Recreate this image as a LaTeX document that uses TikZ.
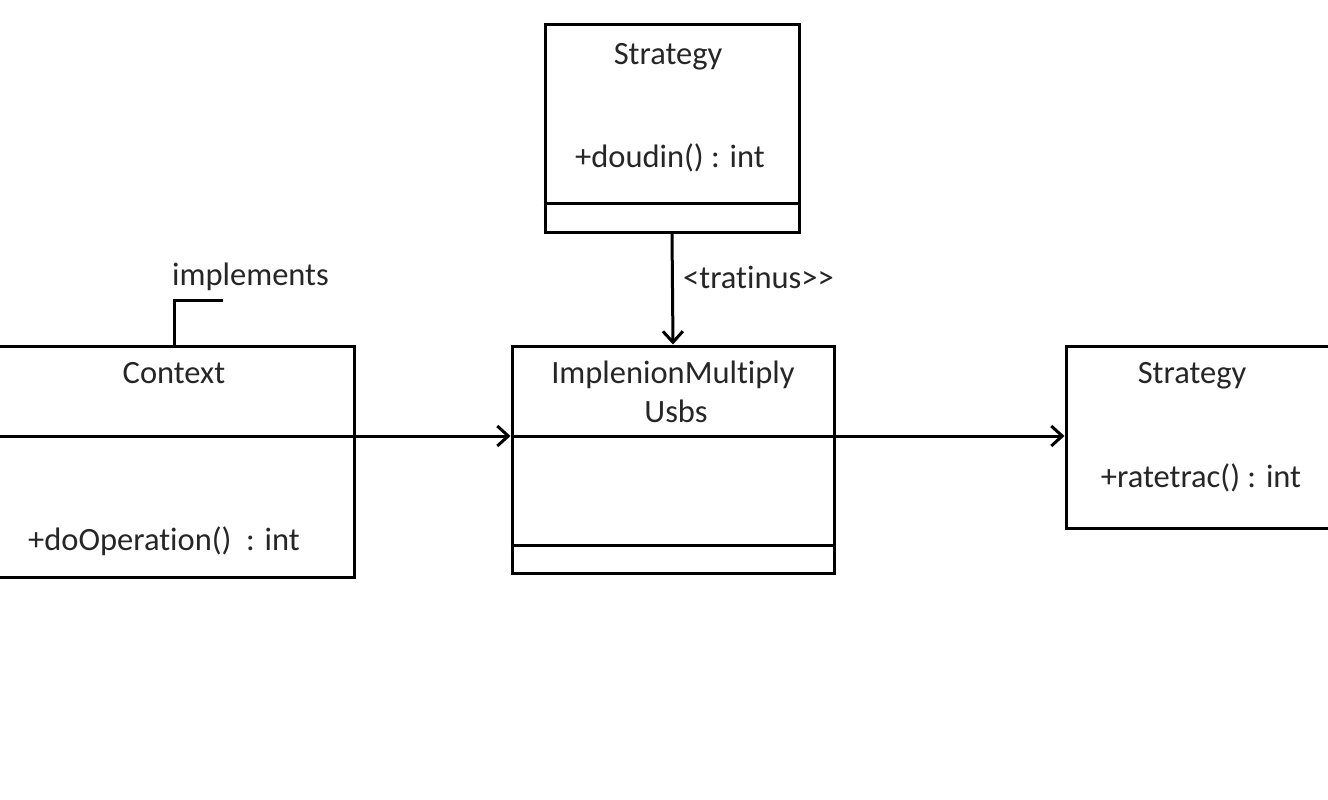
\documentclass[tikz,border=0pt]{standalone}
\usepackage{fontspec}
\setmainfont{Carlito}[Ligatures={NoCommon},Mapping={}]
\usetikzlibrary{arrows.meta}
\begin{document}
\begin{tikzpicture}[x=1pt,y=-1pt,
  umlbox/.style={draw=black,line width=3pt,fill=white,rectangle,inner sep=0pt},
  lbl/.style={inner sep=0pt,anchor=base,font=\fontsize{32.5}{38}\selectfont,text=black!85},
  conn/.style={line width=3pt,-{Straight Barb[length=11pt,width=20pt,line width=3pt]}},
  plain/.style={line width=3pt}]
\clip (0,0) rectangle (1328,800);
\fill[white] (0,0) rectangle (1328,800);
% boxes
\node[umlbox,minimum width=254pt,minimum height=207pt] (top) at (672,128.5) {};
\node[umlbox,minimum width=374pt,minimum height=231pt] (ctx) at (167,461.5) {};
\node[umlbox,minimum width=322pt,minimum height=227pt] (mid) at (673,459.5) {};
\node[umlbox,minimum width=282pt,minimum height=182pt] (rgt) at (1207,437) {};
% dividers
\draw[plain] (top.west |- 0,203) -- (top.east |- 0,203);
\draw[plain] (mid.west |- 0,545) -- (mid.east |- 0,545);
\draw[plain] (mid.west |- 0,436) -- (mid.east |- 0,436);
% texts
\node[lbl] (t1) at (668,64) {Strategy};
\node[lbl] (t2) at (670,167) {+doudin() : int};
\node[lbl,anchor=base west] (t3) at (683,288) {<tratinus{>}{>}};
\node[lbl,anchor=base west] (t4) at (172,285) {implements};
\node[lbl] (t5) at (174,383) {Context};
\node[lbl,anchor=base west] (t6) at (28,550) {+doOperation()\ \ : int};
\node[lbl] (t7) at (673,383) {ImplenionMultiply};
\node[lbl] (t8) at (676,422) {Usbs};
\node[lbl] (t9) at (1192,383) {Strategy};
\node[lbl] (t10) at (1201,487) {+ratetrac() : int};
% connectors
\coordinate (lstart) at (-20,436);
\coordinate (imp) at (223,300);
\draw[conn] (top.south) -- (mid.north);
\draw[conn] (lstart) -- (mid.west |- lstart);
\draw[conn] (mid.east |- lstart) -- (rgt.west |- lstart);
\draw[plain] (ctx.north -| 174,0) -- (174,300) -- (imp);
\end{tikzpicture}
\end{document}
